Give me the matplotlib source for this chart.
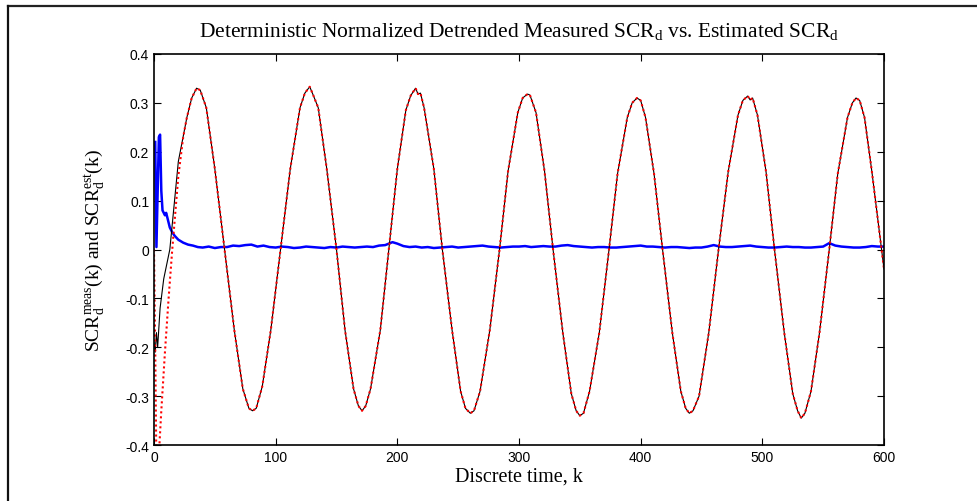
import matplotlib
matplotlib.use("Agg")
import matplotlib.pyplot as plt
from matplotlib.lines import Line2D

# --------- DATA ---------------------------------
# measured detrended SCR_d (black solid)
MEAS_K = [0, 1, 2, 3, 5, 8, 13, 20, 27, 31, 35, 38, 43, 50, 58, 66, 73, 78, 81, 84,
          89, 96, 104, 112, 120, 124, 128, 131, 135, 142, 150, 157, 164, 168, 171, 174,
          178, 186, 193, 200, 207, 211, 215, 217, 219, 222, 230, 237, 245, 252, 256, 260,
          263, 268, 276, 284, 291, 299, 303, 307, 309, 314, 321, 328, 336, 343, 347, 350,
          353, 358, 366, 374, 381, 389, 393, 397, 400, 404, 411, 418, 426, 433, 437, 440,
          443, 448, 456, 464, 472, 480, 484, 488, 490, 492, 496, 503, 510, 518, 525, 529,
          532, 535, 540, 547, 555, 562, 570, 574, 577, 580, 584, 590, 595, 600]
MEAS = [-0.19, -0.21, -0.17, -0.20, -0.12, -0.06, 0.0, 0.18, 0.27, 0.31, 0.33, 0.326, 0.29, 0.165, 0.0, -0.165, -0.285, -0.325, -0.33, -0.325,
        -0.28, -0.165, 0.0, 0.165, 0.29, 0.32, 0.333, 0.315, 0.29, 0.165, 0.0, -0.165, -0.285, -0.32, -0.33, -0.32,
        -0.285, -0.165, 0.0, 0.165, 0.285, 0.315, 0.33, 0.318, 0.32, 0.29, 0.165, 0.0, -0.165, -0.29, -0.325, -0.335,
        -0.33, -0.29, -0.165, 0.0, 0.16, 0.28, 0.31, 0.318, 0.316, 0.28, 0.16, 0.0, -0.17, -0.295, -0.33, -0.34,
        -0.335, -0.29, -0.17, 0.0, 0.155, 0.27, 0.30, 0.31, 0.305, 0.27, 0.155, 0.0, -0.17, -0.29, -0.325, -0.335,
        -0.33, -0.30, -0.17, 0.0, 0.16, 0.275, 0.305, 0.314, 0.306, 0.31, 0.275, 0.16, 0.0, -0.17, -0.295, -0.33,
        -0.345, -0.335, -0.29, -0.17, 0.0, 0.155, 0.27, 0.30, 0.31, 0.305, 0.27, 0.16, 0.06, -0.04]

# estimated SCR_d (red dotted): own start-up transient, then on top of the measured curve
EST_START_K = [0, 1, 2, 3, 4, 6, 9, 12, 15, 20, 24]
EST_START = [0.0, -0.2, -0.45, -0.5, -0.42, -0.33, -0.21, -0.1, 0.0, 0.15, 0.23]

# blue curve
BLUE_K = [1, 2, 3, 4, 5, 6, 7, 8, 9, 10, 11, 13, 15, 17, 20, 24, 28, 32, 36,
          40, 45, 50, 55, 60, 65, 70, 75, 80, 85, 90, 95, 100, 105, 110, 115, 120,
          125, 130, 135, 140, 145, 150, 155, 160, 165, 170, 175, 180, 185, 190, 196,
          200, 205, 210, 215, 220, 225, 230, 235, 240, 245, 250, 255, 260, 265, 270,
          275, 280, 285, 290, 295, 300, 305, 310, 315, 320, 325, 330, 335, 340, 345,
          350, 355, 360, 365, 370, 375, 380, 385, 390, 395, 400, 405, 410, 415, 420,
          425, 430, 435, 440, 445, 450, 455, 460, 465, 470, 475, 480, 485, 490, 495,
          500, 505, 510, 515, 520, 525, 530, 535, 540, 545, 550, 555, 560, 565, 570,
          575, 580, 585, 590, 595, 600]
BLUE = [0.22, 0.005, 0.12, 0.23, 0.235, 0.12, 0.08, 0.075, 0.07, 0.075, 0.065, 0.045, 0.035, 0.028, 0.02, 0.014, 0.01, 0.008, 0.005,
        0.004, 0.006, 0.003, 0.005, 0.005, 0.008, 0.007, 0.009, 0.010, 0.006, 0.008, 0.005, 0.004, 0.006, 0.005, 0.003, 0.004,
        0.006, 0.005, 0.004, 0.003, 0.005, 0.004, 0.006, 0.005, 0.004, 0.005, 0.006, 0.005, 0.008, 0.009, 0.015,
        0.012, 0.007, 0.005, 0.006, 0.004, 0.005, 0.003, 0.004, 0.005, 0.006, 0.004, 0.005, 0.006, 0.007, 0.008,
        0.006, 0.005, 0.004, 0.005, 0.006, 0.006, 0.007, 0.005, 0.006, 0.007, 0.006, 0.006, 0.008, 0.009, 0.007,
        0.006, 0.005, 0.004, 0.005, 0.005, 0.004, 0.004, 0.005, 0.006, 0.007, 0.008, 0.006, 0.006, 0.005, 0.004,
        0.005, 0.005, 0.004, 0.003, 0.004, 0.004, 0.006, 0.009, 0.006, 0.005, 0.005, 0.006, 0.007, 0.008, 0.006,
        0.005, 0.004, 0.004, 0.005, 0.006, 0.005, 0.005, 0.004, 0.004, 0.005, 0.006, 0.013, 0.008, 0.006, 0.005,
        0.004, 0.004, 0.005, 0.007, 0.006, 0.006]

X_TICKS = [0, 100, 200, 300, 400, 500, 600]
Y_TICKS = [-0.4, -0.3, -0.2, -0.1, 0.0, 0.1, 0.2, 0.3, 0.4]
Y_TICK_LABELS = ["-0.4", "-0.3", "-0.2", "-0.1", "0", "0.1", "0.2", "0.3", "0.4"]

TITLE = r"Deterministic Normalized Detrended Measured SCR$_{\mathrm{d}}$ vs. Estimated SCR$_{\mathrm{d}}$"
YLABEL = r"SCR$_{\mathrm{d}}^{\mathrm{meas}}$(k) and SCR$_{\mathrm{d}}^{\mathrm{est}}$(k)"
XLABEL = "Discrete time, k"
# -----------------------------------------------

plt.rcParams["mathtext.fontset"] = "custom"
plt.rcParams["mathtext.rm"] = "Liberation Serif"
plt.rcParams["mathtext.it"] = "Liberation Serif:italic"

W, H = 977, 502


def plot_results():
    fig = plt.figure(figsize=(W / 100, H / 100), dpi=100)
    ax = fig.add_axes([154 / W, (H - 446) / H, 730 / W, 391 / H])

    est_k = EST_START_K + [k for k in MEAS_K if k >= 27]
    est = EST_START + [v for k, v in zip(MEAS_K, MEAS) if k >= 27]

    ax.plot(BLUE_K, BLUE, color="#0000ff", lw=1.8)
    ax.plot(MEAS_K, MEAS, color="black", lw=0.8)
    ax.plot(est_k, est, color="#ff0000", lw=1.5, linestyle=(0, (1, 1.4)))

    ax.set_xlim(0, 600)
    ax.set_ylim(-0.4, 0.4)
    ax.set_xticks(X_TICKS)
    ax.set_xticklabels([str(t) for t in X_TICKS])
    ax.set_yticks(Y_TICKS)
    ax.set_yticklabels(Y_TICK_LABELS)
    ax.tick_params(direction="in", top=True, right=True, length=5, width=0.8,
                   labelsize=10, pad=3.5)
    for lab in ax.get_xticklabels() + ax.get_yticklabels():
        lab.set_fontfamily("Liberation Sans")
    for sp in ax.spines.values():
        sp.set_linewidth(1.2)

    ax.set_title(TITLE, family="Liberation Serif", fontsize=15.5, y=(446 - 31) / 391,
                 va="center", pad=0)
    ax.set_xlabel(XLABEL, family="Liberation Serif", fontsize=14.5, va="center")
    ax.xaxis.set_label_coords(0.5, (446 - 477) / 391)
    ax.set_ylabel(YLABEL, family="Liberation Serif", fontsize=14, va="center")
    ax.yaxis.set_label_coords((95 - 154) / 730, 0.5)

    # frame lines of the cropped figure (top and left only)
    fig.add_artist(Line2D([8 / W, 1], [1 - 7 / H, 1 - 7 / H], color="#222222", lw=1.6))
    fig.add_artist(Line2D([8 / W, 8 / W], [0, 1 - 7 / H], color="#111111", lw=1.6))

    fig.savefig("out.png", dpi=100)


if __name__ == "__main__":
    plot_results()
